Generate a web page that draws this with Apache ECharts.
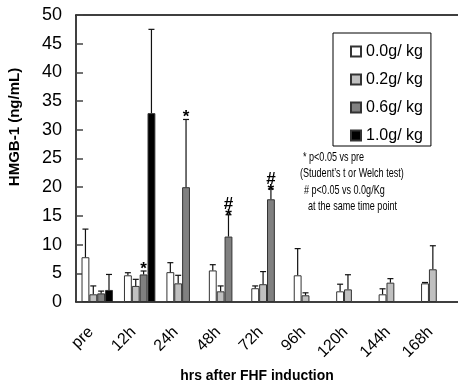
<!DOCTYPE html>
<html>
<head>
<meta charset="utf-8">
<script src="https://cdn.jsdelivr.net/npm/echarts@6/dist/echarts.min.js"></script>
<style>
  html, body { margin: 0; padding: 0; background: #fff; }
  #chart { width: 458px; height: 385px; }
</style>
</head>
<body>
<div id="chart"></div>
<script>
const categories = ['pre', '12h', '24h', '48h', '72h', '96h', '120h', '144h', '168h']
const doses = ['0.0g/ kg', '0.2g/ kg', '0.6g/ kg', '1.0g/ kg']
const doseColors = ['#ffffff', '#c0c0c0', '#808080', '#000000']

// mean and upper error (SD) per dose, null = not measured
const mean00 = [7.8, 4.65, 5.2, 5.5, 2.4, 4.65, 1.86, 1.34, 3.25]
const sd00 = [4.9, 0.45, 1.65, 1.0, 0.4, 4.65, 1.24, 0.96, 0.15]
const mean02 = [1.34, 2.8, 3.25, 1.86, 3.1, 1.17, 2.2, 3.37, 5.7]
const sd02 = [1.46, 1.15, 1.4, 0.94, 2.2, 0.43, 2.55, 0.7, 4.1]
const mean06 = [1.5, 4.8, 20.0, 11.4, 17.9, null, null, null, null]
const sd06 = [0.4, 0.6, 11.8, 3.8, 1.8, null, null, null, null]
const mean10 = [2.1, 32.9, null, null, null, null, null, null, null]
const sd10 = [2.7, 14.6, null, null, null, null, null, null, null]
// significance marks above the 0.6 g/kg bars
const marks06 = ['', '*', '*', '#\n*', '#\n*', '', '', '', '']

const means = [mean00, mean02, mean06, mean10]
const sds = [sd00, sd02, sd06, sd10]
const marks = [[], [], marks06, []]

const FONT = '"Liberation Sans Narrow", "Liberation Sans", Arial, sans-serif'
const CAT_GAP = 0.26

const chart = echarts.init(document.getElementById('chart'), null, { renderer: 'canvas' })

const barSeries = doses.map((name, k) => ({
    name,
    type: 'bar',
    data: means[k],
    barGap: '0%',
    barCategoryGap: CAT_GAP * 100 + '%',
    itemStyle: { color: doseColors[k], borderColor: '#333', borderWidth: 1 },
    z: 2
}))

// error bars: one custom series per dose, drawn at that dose's bar slot
const errSeries = doses.map((name, k) => ({
    type: 'custom',
    silent: true,
    z: 3,
    data: categories.map((c, i) => [i, means[k][i], sds[k][i]]),
    renderItem(params, api) {
        const i = api.value(0)
        const m = api.value(1)
        const sd = api.value(2)
        if (isNaN(m) || isNaN(sd)) return
        const band = api.size([1, 0])[0]
        const groupW = band * (1 - CAT_GAP)
        const barW = groupW / doses.length
        const cx = api.coord([i, 0])[0] - groupW / 2 + barW * (k + 0.5)
        const y0 = api.coord([i, m])[1]
        const y1 = api.coord([i, m + sd])[1]
        const style = { stroke: '#111', lineWidth: 1.2 }
        const children = [
            { type: 'line', shape: { x1: cx, y1: y0, x2: cx, y2: y1 }, style },
            { type: 'line', shape: { x1: cx - 3, y1: y1, x2: cx + 3, y2: y1 }, style }
        ]
        const mk = marks[k][i]
        if (mk) {
            children.push({
                type: 'text',
                style: {
                    text: mk, x: cx, y: y1 + (mk.length > 1 ? 8 : 4),
                    align: 'center', verticalAlign: 'bottom',
                    font: 'bold 17px ' + FONT, lineHeight: 12, fill: '#000'
                }
            })
        }
        return { type: 'group', children }
    }
}))

const noteFont = '13.5px ' + FONT
const NOTE_SCALE = 0.67

chart.setOption({
    animation: false,
    backgroundColor: '#fff',
    grid: { left: 76, right: 0, top: 15, bottom: 83 },
    legend: {
        data: doses,
        orient: 'vertical',
        left: 333,
        top: 33,
        padding: [10, 8, 2, 17],
        itemGap: 11,
        itemWidth: 10,
        itemHeight: 10,
        icon: 'rect',
        borderColor: '#000',
        borderWidth: 1,
        textStyle: { fontFamily: FONT, fontSize: 16, color: '#000', lineHeight: 17 }
    },
    xAxis: [
        {
            type: 'category',
            data: categories,
            axisLine: { lineStyle: { color: '#000', width: 1.5 } },
            axisTick: { inside: true, length: 7, lineStyle: { color: '#444', width: 1.5 } },
            axisLabel: {
                rotate: 45, margin: 34, verticalAlign: 'bottom', lineHeight: 18,
                fontFamily: FONT, fontSize: 16, color: '#000'
            }
        },
        {
            type: 'category',
            position: 'top',
            data: categories,
            axisLine: { show: true, lineStyle: { color: '#000', width: 1.5 } },
            axisTick: { show: false },
            axisLabel: { show: false }
        }
    ],
    yAxis: {
        type: 'value',
        min: 0,
        max: 50,
        interval: 5,
        axisLine: { show: true, lineStyle: { color: '#000', width: 1.5 } },
        axisTick: { show: true, inside: true, length: 7, lineStyle: { color: '#444', width: 1.5 } },
        splitLine: { show: false },
        axisLabel: { margin: 14, fontFamily: FONT, fontSize: 18, color: '#000' }
    },
    graphic: [
        {
            type: 'text',
            x: 15, y: 127, rotation: Math.PI / 2,
            style: {
                text: 'HMGB-1 (ng/mL)', align: 'center', verticalAlign: 'middle',
                font: 'bold 15px ' + FONT, fill: '#000'
            }
        },
        {
            type: 'text',
            x: 257, y: 376, scaleX: 0.93,
            style: {
                text: 'hrs after FHF induction', align: 'center', verticalAlign: 'middle',
                font: 'bold 15px ' + FONT, fill: '#000'
            }
        },
        {
            type: 'text', x: 303, y: 157, scaleX: NOTE_SCALE,
            style: { text: '* p<0.05 vs pre', verticalAlign: 'middle', font: noteFont, fill: '#000' }
        },
        {
            type: 'text', x: 300, y: 173, scaleX: NOTE_SCALE,
            style: { text: '(Student\u2019s t or Welch test)', verticalAlign: 'middle', font: noteFont, fill: '#000' }
        },
        {
            type: 'text', x: 304, y: 190, scaleX: NOTE_SCALE,
            style: { text: '# p<0.05 vs 0.0g/Kg', verticalAlign: 'middle', font: noteFont, fill: '#000' }
        },
        {
            type: 'text', x: 308, y: 206, scaleX: NOTE_SCALE,
            style: { text: 'at the same time point', verticalAlign: 'middle', font: noteFont, fill: '#000' }
        }
    ],
    series: [...barSeries, ...errSeries]
})
</script>
</body>
</html>
